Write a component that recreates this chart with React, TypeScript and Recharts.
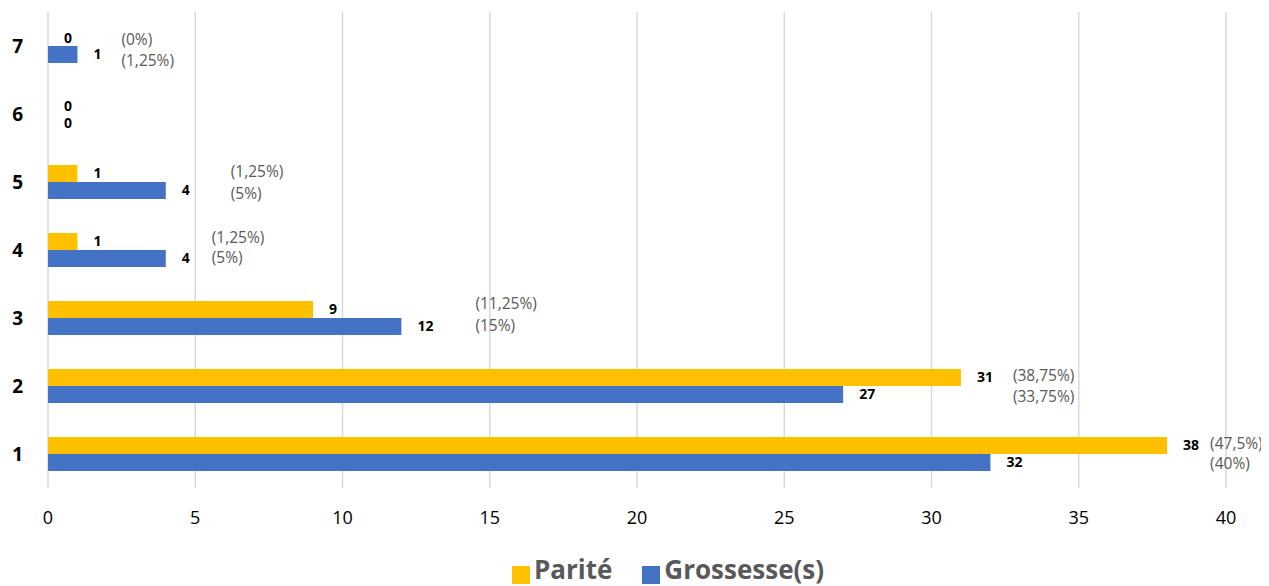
import { BarChart, Bar, XAxis, YAxis, CartesianGrid, Legend, LabelList, ReferenceDot } from "recharts";

const categories = ["7", "6", "5", "4", "3", "2", "1"];
const parite = [0, 0, 1, 1, 9, 31, 38];
const grossesse = [1, 0, 4, 4, 12, 27, 32];
const paritePct = ["(0%)", "", "(1,25%)", "(1,25%)", "(11,25%)", "(38,75%)", "(47,5%)"];
const grossessePct = ["(1,25%)", "", "(5%)", "(5%)", "(15%)", "(33,75%)", "(40%)"];
const xTicks = [0, 5, 10, 15, 20, 25, 30, 35, 40];

// hand placed percentage labels (px offsets from the longer bar end / band centre)
const PCT_DX = [44, 0, 65, 46, 74, 52, 43];
const PCT_DY = [[-7, 14], [0, 0], [-11, 11], [-13, 7], [-15, 7], [-11, 10], [-11, 9]];

const YELLOW = "#FFC000";
const BLUE = "#4472C4";
const FONT = "'Open Sans', sans-serif";
const LABEL_OFFSET = 16;
const HALF_BAR = 8.5;

const data = categories.map((cat, i) => ({
  cat,
  parite: parite[i],
  grossesse: grossesse[i],
}));

function PctLabel({ cx, cy, index }: { cx: number; cy: number; index: number }) {
  if (!paritePct[index]) return <g />;
  const x = cx + PCT_DX[index];
  const [d1, d2] = PCT_DY[index];
  return (
    <g fontFamily={FONT} fontSize={15.5} fill="#595959">
      <text x={x} y={cy + d1} dominantBaseline="central">{paritePct[index]}</text>
      <text x={x} y={cy + d2} dominantBaseline="central">{grossessePct[index]}</text>
    </g>
  );
}

// bars of length 0 get no LabelList entry, so their "0" is drawn here
function ZeroLabel({ cx, cy, dy }: { cx: number; cy: number; dy: number }) {
  return (
    <text x={cx + LABEL_OFFSET} y={cy + dy} dominantBaseline="central" fontFamily={FONT} fontSize={14} fontWeight={700} fill="#000">
      0
    </text>
  );
}

export default function App() {
  return (
    <div style={{ width: 1260, height: 578, fontFamily: FONT }}>
      <BarChart
        width={1260}
        height={578}
        data={data}
        layout="vertical"
        margin={{ top: 4, right: 42, bottom: 0, left: 0 }}
        barCategoryGap="25%"
        barGap={0}
        style={{ overflow: "visible" }}
      >
        <CartesianGrid horizontal={false} vertical={true} stroke="#d9d9d9" strokeWidth={1.5} />
        <XAxis
          type="number"
          domain={[0, 40]}
          ticks={xTicks}
          axisLine={false}
          tickLine={false}
          tickSize={0}
          tickMargin={23}
          height={52}
          tick={{ fill: "#000", fontSize: 18, fontFamily: FONT }}
        />
        <YAxis
          type="category"
          dataKey="cat"
          width={40}
          axisLine={false}
          tickLine={false}
          tickSize={0}
          tickMargin={25}
          tick={{ fill: "#000", fontSize: 19, fontWeight: 700, fontFamily: FONT }}
        />
        <Legend
          verticalAlign="bottom"
          align="center"
          iconType="square"
          iconSize={18}
          itemSorter={(item: any) => (item.value === "Parité" ? 0 : 1)}
          wrapperStyle={{ height: 46, boxSizing: "border-box", paddingTop: 11, paddingLeft: 132, fontFamily: FONT }}
          formatter={(value) => (
            <span style={{ color: "#595959", fontSize: 26, fontWeight: 700, marginRight: 20 }}>{value}</span>
          )}
        />
        <Bar dataKey="parite" name="Parité" fill={YELLOW} isAnimationActive={false}>
          <LabelList dataKey="parite" position="right" offset={LABEL_OFFSET} fill="#000" fontSize={14} fontWeight={700} fontFamily={FONT} />
        </Bar>
        <Bar dataKey="grossesse" name="Grossesse(s)" fill={BLUE} isAnimationActive={false}>
          <LabelList dataKey="grossesse" position="right" offset={LABEL_OFFSET} fill="#000" fontSize={14} fontWeight={700} fontFamily={FONT} />
        </Bar>
        {data.map((d, i) => (
          <ReferenceDot
            key={"pct" + d.cat}
            x={Math.max(d.parite, d.grossesse)}
            y={d.cat}
            r={0}
            ifOverflow="visible"
            shape={(p: any) => <PctLabel cx={p.cx} cy={p.cy} index={i} />}
          />
        ))}
        {data.map((d) =>
          d.parite === 0 ? (
            <ReferenceDot
              key={"zp" + d.cat}
              x={0}
              y={d.cat}
              r={0}
              ifOverflow="visible"
              shape={(p: any) => <ZeroLabel cx={p.cx} cy={p.cy} dy={-HALF_BAR} />}
            />
          ) : null
        )}
        {data.map((d) =>
          d.grossesse === 0 ? (
            <ReferenceDot
              key={"zg" + d.cat}
              x={0}
              y={d.cat}
              r={0}
              ifOverflow="visible"
              shape={(p: any) => <ZeroLabel cx={p.cx} cy={p.cy} dy={HALF_BAR} />}
            />
          ) : null
        )}
      </BarChart>
    </div>
  );
}
